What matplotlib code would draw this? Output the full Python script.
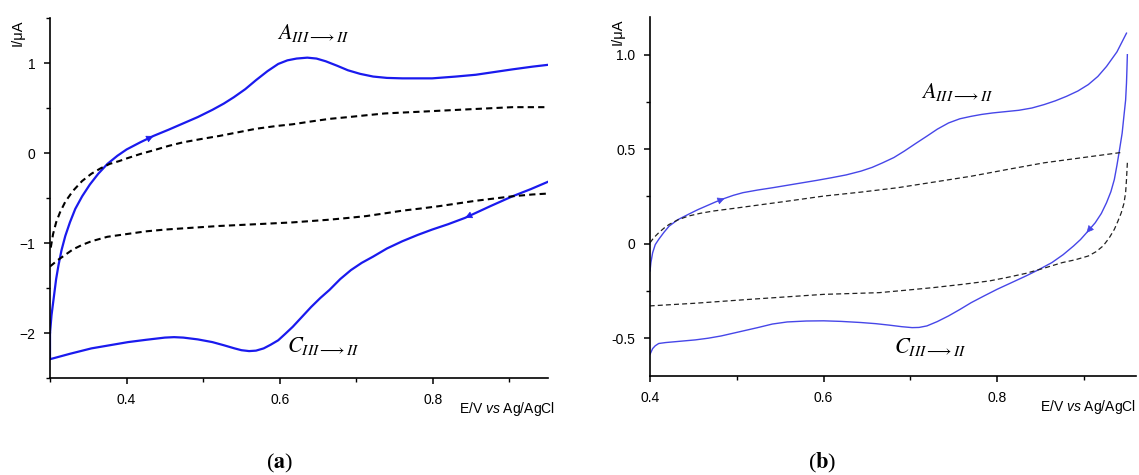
import numpy as np
import matplotlib.pyplot as plt

plt.rcParams['font.family'] = ['Liberation Sans', 'DejaVu Sans']
plt.rcParams['mathtext.fontset'] = 'stix'
plt.rcParams['mathtext.it'] = 'Liberation Sans:italic'
plt.rcParams['mathtext.rm'] = 'Liberation Sans'

# ---- panel (a) data, E / V and I / uA ----
a_fwd_E = [0.300, 0.302, 0.305, 0.308, 0.311, 0.315, 0.320, 0.326, 0.333, 0.342,
           0.352, 0.363, 0.375, 0.388, 0.400, 0.418, 0.435, 0.455, 0.474, 0.493,
           0.512, 0.527, 0.540, 0.555, 0.569, 0.584, 0.598, 0.610, 0.622, 0.636,
           0.648, 0.660, 0.675, 0.689, 0.705, 0.722, 0.740, 0.760, 0.780, 0.799,
           0.830, 0.856, 0.880, 0.904, 0.930, 0.950]
a_fwd_I = [-2.00, -1.80, -1.60, -1.40, -1.25, -1.08, -0.92, -0.77, -0.62, -0.48,
           -0.35, -0.23, -0.12, -0.03, 0.04, 0.12, 0.19, 0.26, 0.33, 0.40,
           0.48, 0.55, 0.62, 0.71, 0.81, 0.91, 0.99, 1.03, 1.05, 1.06,
           1.05, 1.02, 0.97, 0.92, 0.88, 0.85, 0.835, 0.83, 0.83, 0.83,
           0.85, 0.87, 0.90, 0.93, 0.96, 0.98]
a_rev_E = [0.950, 0.928, 0.904, 0.875, 0.842, 0.820, 0.799, 0.780, 0.760, 0.740,
           0.722, 0.707, 0.693, 0.679, 0.665, 0.653, 0.641, 0.629, 0.617, 0.607,
           0.598, 0.588, 0.579, 0.569, 0.560, 0.550, 0.541, 0.527, 0.512, 0.493,
           0.474, 0.462, 0.450, 0.425, 0.402, 0.378, 0.354, 0.326, 0.300, 0.300]
a_rev_I = [-0.32, -0.40, -0.48, -0.59, -0.72, -0.79, -0.85, -0.91, -0.98, -1.06,
           -1.15, -1.22, -1.30, -1.40, -1.52, -1.61, -1.71, -1.82, -1.93, -2.01,
           -2.08, -2.13, -2.17, -2.195, -2.20, -2.19, -2.17, -2.135, -2.10, -2.07,
           -2.05, -2.045, -2.05, -2.075, -2.10, -2.135, -2.17, -2.23, -2.29, -2.00]
a_bg_up_E = [0.301, 0.304, 0.308, 0.313, 0.320, 0.330, 0.342, 0.354, 0.366, 0.378,
             0.390, 0.400, 0.418, 0.435, 0.455, 0.474, 0.500, 0.521, 0.545, 0.569,
             0.595, 0.617, 0.640, 0.665, 0.690, 0.713, 0.737, 0.760, 0.785, 0.808,
             0.832, 0.856, 0.880, 0.904, 0.950]
a_bg_up_I = [-1.05, -0.90, -0.77, -0.66, -0.54, -0.42, -0.31, -0.23, -0.17, -0.12,
             -0.09, -0.06, -0.01, 0.03, 0.08, 0.12, 0.16, 0.19, 0.23, 0.27,
             0.30, 0.32, 0.35, 0.38, 0.40, 0.42, 0.44, 0.45, 0.46, 0.47,
             0.48, 0.49, 0.50, 0.51, 0.51]
a_bg_lo_E = [0.300, 0.310, 0.320, 0.330, 0.342, 0.354, 0.375, 0.400, 0.425, 0.450,
             0.485, 0.521, 0.570, 0.617, 0.665, 0.690, 0.713, 0.737, 0.760, 0.785,
             0.808, 0.832, 0.856, 0.880, 0.904, 0.930, 0.950]
a_bg_lo_I = [-1.26, -1.19, -1.13, -1.07, -1.02, -0.98, -0.93, -0.90, -0.87, -0.85,
             -0.83, -0.81, -0.79, -0.77, -0.74, -0.72, -0.70, -0.67, -0.64, -0.615,
             -0.59, -0.56, -0.53, -0.505, -0.48, -0.46, -0.45]

# ---- panel (b) data ----
b_fwd_E = [0.400, 0.401, 0.403, 0.406, 0.410, 0.416, 0.422, 0.432, 0.444, 0.455,
           0.465, 0.476, 0.486, 0.496, 0.507, 0.524, 0.541, 0.558, 0.575, 0.592,
           0.609, 0.626, 0.643, 0.656, 0.668, 0.681, 0.693, 0.706, 0.719, 0.731,
           0.744, 0.757, 0.770, 0.782, 0.795, 0.810, 0.825, 0.840, 0.854, 0.867,
           0.880, 0.893, 0.905, 0.916, 0.926, 0.938, 0.949]
b_fwd_I = [-0.144, -0.100, -0.048, -0.005, 0.023, 0.060, 0.093, 0.127, 0.155, 0.180,
           0.200, 0.222, 0.240, 0.256, 0.270, 0.284, 0.296, 0.309, 0.322, 0.335,
           0.349, 0.364, 0.384, 0.404, 0.428, 0.456, 0.490, 0.530, 0.569, 0.606,
           0.639, 0.661, 0.674, 0.684, 0.692, 0.699, 0.706, 0.718, 0.736, 0.756,
           0.780, 0.808, 0.842, 0.885, 0.938, 1.015, 1.114]
b_rev_E = [0.950, 0.9495, 0.949, 0.948, 0.946, 0.944, 0.941, 0.938, 0.935, 0.931,
           0.926, 0.920, 0.913, 0.903, 0.896, 0.888, 0.876, 0.863, 0.848, 0.833,
           0.817, 0.800, 0.785, 0.770, 0.757, 0.744, 0.731, 0.719, 0.710, 0.702,
           0.690, 0.676, 0.660, 0.643, 0.620, 0.600, 0.580, 0.558, 0.541, 0.524,
           0.503, 0.482, 0.467, 0.452, 0.435, 0.418, 0.410, 0.406, 0.403, 0.400]
b_rev_I = [1.000, 0.920, 0.850, 0.760, 0.674, 0.585, 0.498, 0.415, 0.340, 0.275,
           0.217, 0.160, 0.111, 0.058, 0.022, -0.012, -0.058, -0.100, -0.137, -0.171,
           -0.205, -0.241, -0.276, -0.312, -0.348, -0.382, -0.412, -0.435, -0.443, -0.444,
           -0.439, -0.431, -0.423, -0.417, -0.411, -0.408, -0.409, -0.414, -0.425, -0.444,
           -0.466, -0.488, -0.500, -0.509, -0.516, -0.523, -0.528, -0.540, -0.555, -0.585]
b_bg_up_E = [0.400, 0.404, 0.410, 0.416, 0.422, 0.432, 0.444, 0.458, 0.473, 0.495,
             0.516, 0.558, 0.600, 0.643, 0.685, 0.727, 0.770, 0.812, 0.854, 0.896,
             0.945]
b_bg_up_I = [0.005, 0.030, 0.058, 0.082, 0.102, 0.126, 0.146, 0.161, 0.173, 0.186,
             0.199, 0.225, 0.252, 0.273, 0.296, 0.326, 0.357, 0.393, 0.428, 0.454,
             0.484]
b_bg_lo_E = [0.950, 0.949, 0.948, 0.946, 0.943, 0.939, 0.935, 0.929, 0.922, 0.914,
             0.905, 0.890, 0.875, 0.855, 0.833, 0.812, 0.791, 0.760, 0.727, 0.695,
             0.664, 0.600, 0.558, 0.516, 0.452, 0.400]
b_bg_lo_I = [0.428, 0.340, 0.270, 0.212, 0.164, 0.118, 0.076, 0.030, -0.012, -0.042,
             -0.065, -0.085, -0.100, -0.128, -0.157, -0.178, -0.197, -0.215, -0.232, -0.246,
             -0.259, -0.268, -0.281, -0.294, -0.315, -0.329]

# potentials where the scan-direction arrows sit (forward, reverse)
a_arrow_E = (0.435, 0.842)
b_arrow_E = (0.486, 0.903)

fig = plt.figure(figsize=(11.39, 4.75), dpi=100)
ax_a = fig.add_axes([0.0439, 0.204, 0.437, 0.758])
ax_b = fig.add_axes([0.5707, 0.2084, 0.4267, 0.756])


def style_axes(ax, xlab_x):
    for s in ['top', 'right']:
        ax.spines[s].set_visible(False)
    for s in ['left', 'bottom']:
        ax.spines[s].set_linewidth(1.2)
    ax.tick_params(which='major', direction='out', length=4.5, width=1.1,
                   labelsize=10, pad=6)
    ax.tick_params(which='minor', direction='out', length=3, width=1.0)
    ax.text(-0.066, 0.995, 'I/\u03bcA', transform=ax.transAxes, rotation=90,
            ha='center', va='top', fontsize=10.5)
    ax.text(xlab_x, -0.085, 'E/V $\\mathit{vs}$ Ag/AgCl', transform=ax.transAxes,
            ha='right', va='center', fontsize=10, math_fontfamily='custom')


def add_arrow(ax, E, I, e_at, color):
    i = int(np.argmin(np.abs(np.asarray(E) - e_at)))
    x0, y0 = E[i - 1], I[i - 1]
    x1, y1 = E[i], I[i]
    xs = x1 - 0.02 * (x1 - x0)
    ys = y1 - 0.02 * (y1 - y0)
    ax.annotate('', xy=(x1, y1), xytext=(xs, ys),
                arrowprops=dict(arrowstyle='-|>', color=color, lw=0.5,
                                mutation_scale=11, shrinkA=0, shrinkB=0))


# ---- panel (a) ----
blue_a = '#1a1aee'
ax_a.plot(a_fwd_E, a_fwd_I, color=blue_a, lw=1.6)
ax_a.plot(a_rev_E, a_rev_I, color=blue_a, lw=1.6)
ax_a.plot(a_bg_up_E, a_bg_up_I, color='black', lw=1.5, ls=(0, (3, 2)))
ax_a.plot(a_bg_lo_E, a_bg_lo_I, color='black', lw=1.5, ls=(0, (3, 2)))
add_arrow(ax_a, a_fwd_E, a_fwd_I, a_arrow_E[0], blue_a)
add_arrow(ax_a, a_rev_E, a_rev_I, a_arrow_E[1], blue_a)
ax_a.set_xlim(0.3, 0.95)
ax_a.set_ylim(-2.5, 1.5)
ax_a.set_xticks([0.4, 0.6, 0.8])
ax_a.set_xticks([0.3, 0.5, 0.7, 0.9], minor=True)
ax_a.set_yticks([-2, -1, 0, 1])
ax_a.set_yticks([-2.5, -1.5, -0.5, 0.5, 1.5], minor=True)
style_axes(ax_a, 1.015)
ax_a.text(0.597, 1.267, r'$\mathit{A}_{\mathit{III}\longrightarrow\mathit{II}}$',
          fontsize=16, ha='left', va='baseline')
ax_a.text(0.609, -2.21, r'$\mathit{C}_{\mathit{III}\longrightarrow\mathit{II}}$',
          fontsize=16, ha='left', va='baseline')
fig.text(280 / 1139, 1 - 463 / 475, r'($\mathbf{a}$)', fontsize=16,
         ha='center', va='center', family='Liberation Serif')

# ---- panel (b) ----
blue_b = '#4646e8'
ax_b.plot(b_fwd_E, b_fwd_I, color=blue_b, lw=1.0)
ax_b.plot(b_rev_E, b_rev_I, color=blue_b, lw=1.0)
ax_b.plot(b_bg_up_E, b_bg_up_I, color='#222222', lw=0.9, ls=(0, (4, 2.5)))
ax_b.plot(b_bg_lo_E, b_bg_lo_I, color='#222222', lw=0.9, ls=(0, (4, 2.5)))
add_arrow(ax_b, b_fwd_E, b_fwd_I, b_arrow_E[0], blue_b)
add_arrow(ax_b, b_rev_E, b_rev_I, b_arrow_E[1], blue_b)
ax_b.set_xlim(0.4, 0.96)
ax_b.set_ylim(-0.7, 1.2)
ax_b.set_xticks([0.4, 0.6, 0.8])
ax_b.set_xticks([0.5, 0.7, 0.9], minor=True)
ax_b.set_yticks([-0.5, 0.0, 0.5, 1.0])
ax_b.set_yticklabels(['-0.5', '0', '0.5', '1.0'])
ax_b.set_yticks([-0.25, 0.25, 0.75], minor=True)
style_axes(ax_b, 1.0)
ax_b.text(0.712, 0.769, r'$\mathit{A}_{\mathit{III}\longrightarrow\mathit{II}}$',
          fontsize=16, ha='left', va='baseline')
ax_b.text(0.681, -0.578, r'$\mathit{C}_{\mathit{III}\longrightarrow\mathit{II}}$',
          fontsize=16, ha='left', va='baseline')
fig.text(822 / 1139, 1 - 463 / 475, r'($\mathbf{b}$)', fontsize=16,
         ha='center', va='center', family='Liberation Serif')

fig.savefig('out.png', dpi=100)
